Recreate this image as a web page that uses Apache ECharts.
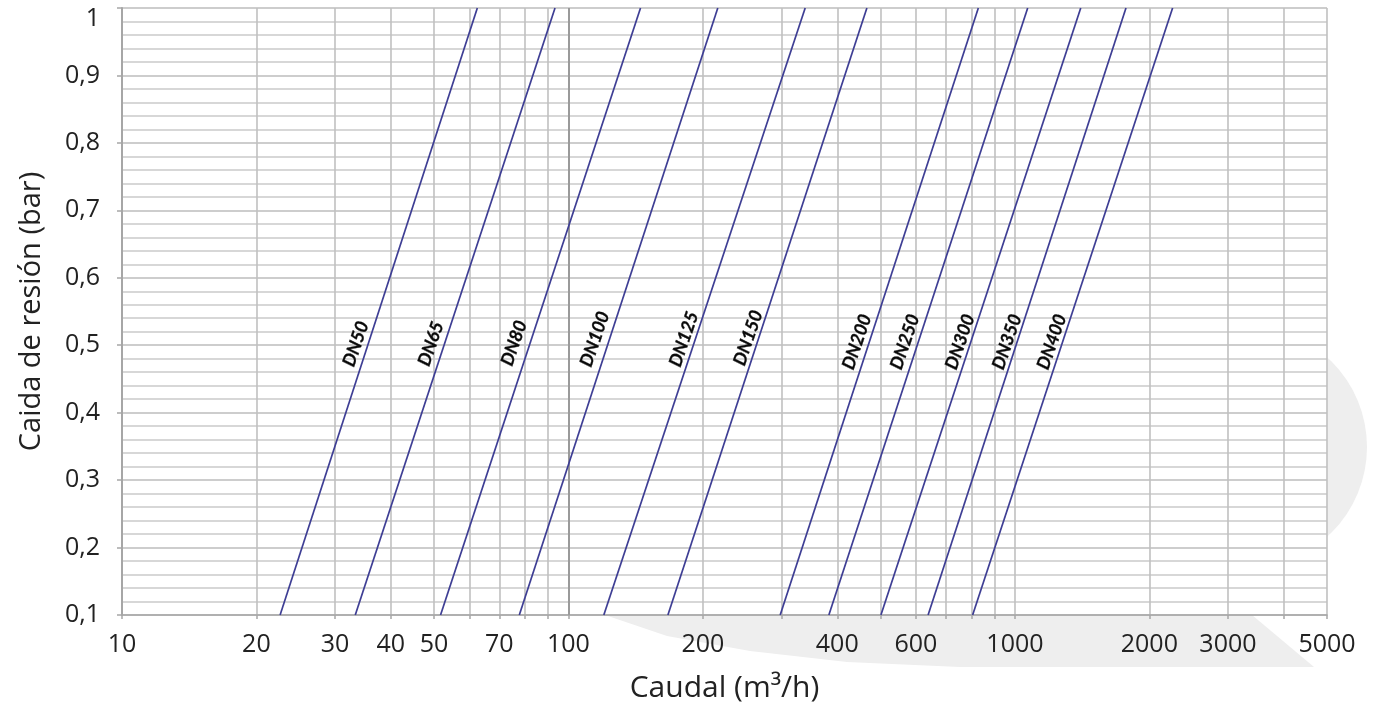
<!DOCTYPE html>
<html>
<head>
<meta charset="utf-8">
<script src="https://cdn.jsdelivr.net/npm/echarts@6/dist/echarts.min.js"></script>
<style>
html,body{margin:0;padding:0;background:#fff;}
#chart{width:1381px;height:711px;}
</style>
</head>
<body>
<div id="chart"></div>
<script>
// ---- data ----
const seriesNames = ['DN50','DN65','DN80','DN100','DN125','DN150','DN200','DN250','DN300','DN350','DN400'];
// flow (m3/h) where each line meets 0.1 bar and 1 bar
const flowAtLow  = [22.6, 33.3, 51.7, 77.6, 120, 167, 298, 383, 501, 639, 804];
const flowAtHigh = [62.5, 93.3, 145, 216, 339, 466, 828, 1068, 1404, 1773, 2255];
const pressureLow = 0.1;
const pressureHigh = 1;
// label anchor positions (flow, pressure)
const labelFlow = [33.4, 49.2, 75.5, 114.6, 181.4, 252.7, 442.8, 567.1, 753.8, 960, 1210];
const labelPressure = [0.502, 0.502, 0.503, 0.509, 0.509, 0.511, 0.505, 0.505, 0.505, 0.505, 0.505];
// axis ticks
const xGridValues = [10,20,30,40,50,60,70,80,90,100,200,300,400,500,600,700,800,900,1000,2000,3000,4000,5000];
const xLabelValues = [10,20,30,40,50,70,100,200,400,600,1000,2000,3000,5000];
const yMin = 0.1, yMax = 1, yStep = 0.1;

const lineColor = '#3e3e94';
const series = seriesNames.map((name, i) => ({
  name: name,
  type: 'line',
  data: [[flowAtLow[i], pressureLow], [flowAtHigh[i], pressureHigh]],
  symbol: 'none',
  silent: true,
  lineStyle: { color: lineColor, width: 1.7 },
  z: 5,
  markPoint: {
    symbol: 'circle',
    symbolSize: 1,
    itemStyle: { color: 'rgba(0,0,0,0)' },
    data: [{ coord: [labelFlow[i], labelPressure[i]], value: name }],
    label: {
      show: true,
      position: 'inside',
      formatter: name,
      rotate: 71,
      color: '#0a0a0a',
      fontFamily: 'Lato, "Liberation Sans", sans-serif',
      fontWeight: 'bold',
      fontStyle: 'italic',
      fontSize: 18,
      textBorderColor: '#444',
      textBorderWidth: 0.4
    }
  }
}));
// darker line at 100
series[0].markLine = {
  silent: true,
  symbol: 'none',
  label: { show: false },
  lineStyle: { color: '#9a9a9a', width: 2, type: 'solid' },
  data: [{ xAxis: 100 }]
};

const chart = echarts.init(document.getElementById('chart'), null, { renderer: 'canvas' });
chart.setOption({
  backgroundColor: '#ffffff',
  animation: false,
  graphic: [
    {
      type: 'polygon', z: -10, silent: true,
      shape: { points: [[605,615],[667,636],[750,651],[847,662],[960,667],[1314,667],[1252,615]] },
      style: { fill: '#eeeeee' }
    },
    {
      type: 'circle', z: -10, silent: true,
      shape: { cx: 1246, cy: 447, r: 121 },
      style: { fill: '#eeeeee' }
    }
  ],
  grid: {
    left: 122, right: 54, top: 8, bottom: 96,
    show: true, backgroundColor: '#ffffff', borderWidth: 0
  },
  xAxis: {
    type: 'log',
    logBase: 10,
    min: 10,
    max: 5000,
    name: 'Caudal (m³/h)',
    nameLocation: 'middle',
    nameGap: 58,
    nameTextStyle: { fontFamily: '"Open Sans", sans-serif', fontSize: 30, color: '#222' },
    axisLine: { show: true, lineStyle: { color: '#a6a6a6', width: 1.5 } },
    axisTick: { show: true, customValues: xGridValues, length: 4, lineStyle: { color: '#a6a6a6', width: 1.5 } },
    axisLabel: {
      customValues: xLabelValues,
      margin: 17,
      fontFamily: '"Open Sans", sans-serif',
      fontSize: 25,
      color: '#222',
      formatter: v => String(Math.round(v))
    },
    splitLine: { show: true, lineStyle: { color: '#c0c0c0', width: 1.6 } },
    minorSplitLine: { show: false }
  },
  yAxis: {
    type: 'value',
    min: yMin,
    max: yMax,
    interval: yStep,
    name: 'Caida de resión (bar)',
    nameLocation: 'middle',
    nameGap: 76,
    nameTextStyle: { fontFamily: '"Open Sans", sans-serif', fontSize: 29, color: '#222' },
    axisLine: { show: true, lineStyle: { color: '#a6a6a6', width: 2 } },
    axisTick: { show: true, length: 5, lineStyle: { color: '#a6a6a6', width: 1.5 } },
    axisLabel: {
      margin: 22,
      fontFamily: '"Open Sans", sans-serif',
      fontSize: 25,
      color: '#222',
      formatter: v => {
        const s = String(+(+v).toFixed(1)).replace('.', ',');
        return s === '1' ? '{top|1}' : s;
      },
      rich: { top: { fontFamily: '"Open Sans", sans-serif', fontSize: 25, color: '#222', padding: [22, 0, 0, 0] } }
    },
    splitLine: { show: true, lineStyle: { color: '#bcbcbc', width: 1.7 } },
    minorTick: { show: false, splitNumber: 5 },
    minorSplitLine: { show: true, lineStyle: { color: '#cacaca', width: 1.5 } }
  },
  series: series
});
</script>
</body>
</html>
